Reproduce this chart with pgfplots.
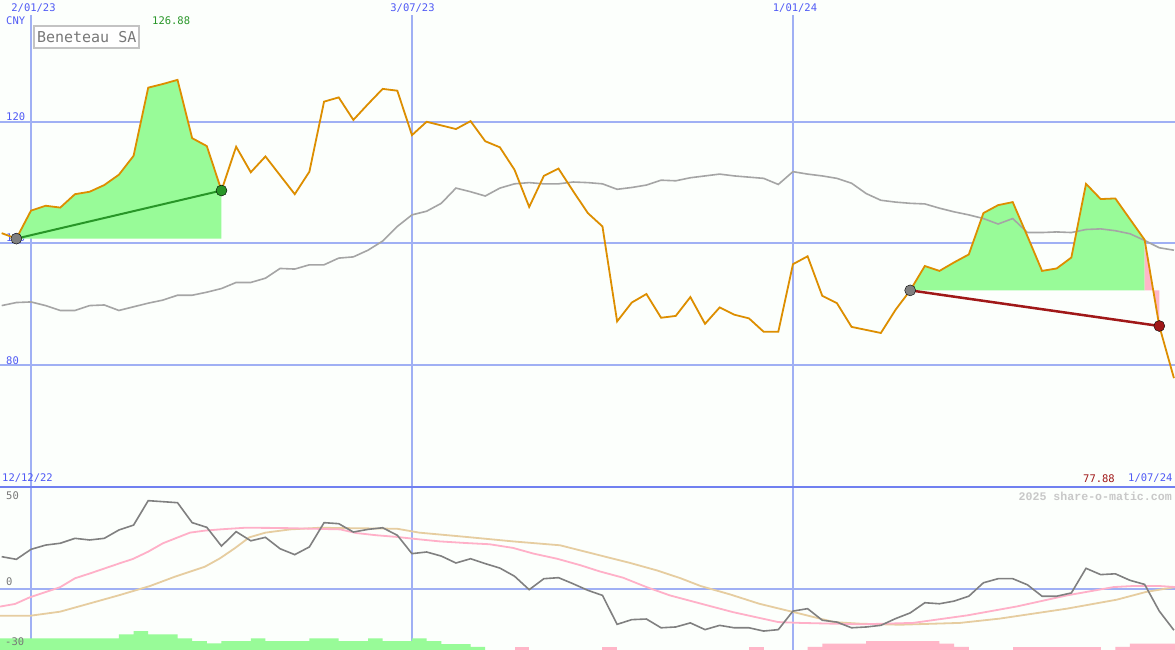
\documentclass[border=0pt]{standalone}
\usepackage{fontspec}
\setmainfont{DejaVu Sans}
\newfontfamily\lblfont{DejaVu Sans Mono}
\newfontfamily\wmfont{Liberation Mono}
\usepackage{pgfplots}
\usepackage{pgfplotstable}
\pgfplotsset{compat=1.18}

\definecolor{bg}{RGB}{252,255,252}
\definecolor{gridblue}{RGB}{160,176,244}
\definecolor{sepblue}{RGB}{112,128,240}
\definecolor{lblblue}{RGB}{80,90,245}
\definecolor{pricecol}{RGB}{221,142,0}
\definecolor{avgcol}{RGB}{165,165,165}
\definecolor{oscgray}{RGB}{128,128,128}
\definecolor{pinkline}{RGB}{255,176,200}
\definecolor{tanline}{RGB}{230,205,160}
\definecolor{palegrn}{RGB}{152,251,152}
\definecolor{pinkfill}{RGB}{255,182,200}
\definecolor{upgreen}{RGB}{40,150,40}
\definecolor{dnred}{RGB}{160,24,24}
\definecolor{wmgray}{RGB}{200,200,200}
\definecolor{boxgray}{RGB}{195,195,195}
\definecolor{txtgray}{RGB}{120,120,120}

% weekly closes, x = weeks after 2/01/23
\pgfplotstableread{
k v
-2 101.7
-1 100.8
0 105.4
1 106.2
2 105.9
3 108.1
4 108.5
5 109.6
6 111.3
7 114.4
8 125.6
9 126.2
10 126.88
11 117.3
12 116.0
13 108.7
14 115.9
15 111.7
16 114.3
17 111.2
18 108.1
19 111.8
20 123.3
21 124.0
22 120.3
23 122.9
24 125.4
25 125.1
26 117.8
27 120.0
28 119.4
29 118.8
30 120.1
31 116.8
32 115.8
33 112.1
34 106.0
35 111.1
36 112.3
37 108.6
38 105.0
39 102.8
40 87.2
41 90.3
42 91.7
43 87.8
44 88.1
45 91.2
46 86.8
47 89.5
48 88.3
49 87.7
50 85.5
51 85.5
52 96.6
53 97.9
54 91.4
55 90.2
56 86.3
57 85.8
58 85.3
59 89.1
60 92.3
61 96.3
62 95.5
63 96.9
64 98.2
65 105.0
66 106.3
67 106.8
68 101.2
69 95.5
70 95.9
71 97.7
72 109.8
73 107.3
74 107.4
75 104.0
76 100.6
77 86.45
78 77.88
}\price

\pgfplotstableread{
k v
-2 89.8
-1 90.3
0 90.4
1 89.8
2 89.0
3 89.0
4 89.8
5 89.9
6 89.0
7 89.6
8 90.2
9 90.7
10 91.5
11 91.5
12 92.0
13 92.6
14 93.6
15 93.6
16 94.3
17 95.9
18 95.8
19 96.5
20 96.5
21 97.6
22 97.8
23 98.9
24 100.4
25 102.8
26 104.7
27 105.3
28 106.6
29 109.1
30 108.5
31 107.8
32 109.1
33 109.8
34 110.0
35 109.8
36 109.8
37 110.1
38 110.0
39 109.8
40 108.9
41 109.2
42 109.6
43 110.4
44 110.3
45 110.8
46 111.1
47 111.4
48 111.1
49 110.9
50 110.7
51 109.7
52 111.8
53 111.4
54 111.1
55 110.7
56 109.9
57 108.2
58 107.1
59 106.8
60 106.6
61 106.5
62 105.8
63 105.2
64 104.7
65 104.1
66 103.2
67 104.1
68 101.8
69 101.8
70 101.9
71 101.8
72 102.3
73 102.4
74 102.1
75 101.6
76 100.5
77 99.3
78 98.9
}\avg

\pgfplotstableread{
k v
-2 15.8
-1 14.5
0 19.4
1 21.5
2 22.4
3 24.8
4 24.0
5 24.8
6 28.9
7 31.3
8 43.3
9 42.8
10 42.3
11 32.5
12 30.2
13 21.0
14 28.1
15 23.6
16 25.3
17 19.7
18 16.8
19 20.6
20 32.5
21 32.0
22 27.9
23 29.2
24 30.0
25 26.3
26 17.3
27 18.1
28 16.1
29 12.7
30 14.8
31 12.4
32 10.2
33 6.2
34 -0.4
35 5.0
36 5.5
37 2.5
38 -0.7
39 -3.2
40 -17.4
41 -15.1
42 -14.8
43 -19.1
44 -18.7
45 -16.7
46 -20.0
47 -17.9
48 -19.1
49 -19.1
50 -20.7
51 -20.0
52 -10.9
53 -9.7
54 -15.4
55 -16.3
56 -19.1
57 -18.7
58 -17.9
59 -14.6
60 -11.8
61 -6.8
62 -7.3
63 -6.0
64 -3.6
65 3.0
66 5.0
67 5.0
68 2.0
69 -3.6
70 -3.6
71 -2.0
72 10.1
73 7.0
74 7.4
75 4.2
76 2.2
77 -10.9
78 -20.3
}\osc

\pgfplotstableread{
k v
-2.12 -8.7
-1.09 -7.4
-0.07 -4.1
1.98 0.8
3.0 5.2
4.03 7.6
5.05 10.1
6.07 12.6
6.96 14.7
7.98 18.2
9.01 22.4
10.03 25.3
10.85 27.6
11.87 28.6
12.9 29.2
14.6 30.0
17.0 29.9
21.1 29.2
22.2 27.4
23.6 26.3
24.96 25.5
26.5 24.3
27.9 23.3
29.7 22.5
31.3 21.9
32.9 20.1
34.3 17.3
35.9 14.8
37.5 11.6
38.8 8.6
40.4 5.5
42.0 0.9
43.6 -3.2
45.9 -7.6
47.9 -11.4
51.0 -16.3
52.5 -16.7
56.6 -17.4
60.2 -16.7
63.9 -13.0
67.3 -8.6
70.7 -3.2
73.9 0.9
75.2 1.4
77.0 1.4
78.1 0.9
}\pinkavg

\pgfplotstableread{
k v
-2.12 -13.2
-0.07 -13.2
1.98 -11.2
4.03 -7.1
6.07 -3.0
8.12 1.4
9.83 6.0
11.87 10.9
12.9 15.0
13.9 19.9
14.9 25.3
16.0 27.6
17.7 29.2
19.7 30.0
25.0 29.5
26.5 27.6
29.7 25.5
32.9 23.3
36.1 21.4
38.8 16.5
40.9 12.7
42.7 9.1
44.3 5.3
45.7 1.4
47.7 -2.7
49.7 -7.3
52.5 -12.2
54.8 -16.3
56.6 -17.1
59.3 -17.6
63.4 -16.7
66.1 -14.6
70.7 -9.7
74.1 -5.3
76.1 -1.5
78.1 0.9
}\tanavg

\pgfplotsset{panel/.style={
  scale only axis, width=1175pt,
  xmin=-2.115, xmax=78.07,
  axis line style={draw=none},
  xtick=\empty, ytick=\empty,
  axis background/.style={fill=bg},
}}

\begin{document}
\begin{tikzpicture}[lbl/.style={font=\lblfont\fontsize{10.5}{12}\selectfont, inner sep=0pt}]

\begin{axis}[panel, at={(0pt,163pt)}, height=487pt, ymin=60, ymax=140]
  \draw[gridblue, line width=2pt] (axis cs:-2.115,120) -- (axis cs:78.07,120);
  \draw[gridblue, line width=2pt] (axis cs:-2.115,100) -- (axis cs:78.07,100);
  \draw[gridblue, line width=2pt] (axis cs:-2.115,80) -- (axis cs:78.07,80);
  \draw[gridblue, line width=2pt] (axis cs:0,60) -- (axis cs:0,137.5);
  \draw[gridblue, line width=2pt] (axis cs:26,60) -- (axis cs:26,137.5);
  \draw[gridblue, line width=1.2pt] (axis cs:52,60) -- (axis cs:52,137.5);
  \node[lbl, text=lblblue, anchor=south west] at (axis cs:-1.705,100.25) {100};

  \addplot[fill=palegrn, draw=none] table[restrict x to domain=-1:13] {\price}
    -- (axis cs:13,100.8) -- (axis cs:-1,100.8) -- cycle;
  \addplot[fill=palegrn, draw=none] table[restrict x to domain=60:76] {\price}
    -- (axis cs:76,92.3) -- (axis cs:60,92.3) -- cycle;
  \addplot[fill=pinkfill, draw=none] table[restrict x to domain=76:77] {\price}
    -- (axis cs:77,92.3) -- (axis cs:76,92.3) -- cycle;

  \addplot[avgcol, line width=1.6pt] table {\avg};
  \addplot[pricecol, line width=1.8pt] table {\price};

  \addplot[upgreen, line width=2pt] coordinates {(-1,100.8) (13,108.7)};
  \addplot[dnred, line width=2.5pt] coordinates {(60,92.3) (77,86.45)};
  \addplot[only marks, mark=*, mark size=5.5pt, mark options={fill=oscgray, draw=none}]
    coordinates {(-1,100.8) (60,92.3)};
  \addplot[only marks, mark=*, mark size=5.5pt, mark options={fill=upgreen, draw=none}]
    coordinates {(13,108.7)};
  \addplot[only marks, mark=*, mark size=5.5pt, mark options={fill=dnred, draw=none}]
    coordinates {(77,86.45)};
\end{axis}

\begin{axis}[panel, at={(0pt,0pt)}, height=163pt, ymin=-30, ymax=50]
  \draw[gridblue, line width=2pt] (axis cs:-2.115,0) -- (axis cs:78.07,0);
  \draw[gridblue, line width=2pt] (axis cs:0,-30) -- (axis cs:0,50);
  \draw[gridblue, line width=2pt] (axis cs:26,-30) -- (axis cs:26,50);
  \draw[gridblue, line width=1.2pt] (axis cs:52,-30) -- (axis cs:52,50);

  % weekly histogram
  \addplot[fill=palegrn, draw=none] coordinates {
    (-2.2,-30) (-2.2,-24.3) (6,-24.3) (6,-22.3) (7,-22.3) (7,-20.7) (8,-20.7)
    (8,-22.3) (10,-22.3) (10,-24.3) (11,-24.3) (11,-25.6) (12,-25.6) (12,-26.7)
    (13,-26.7) (13,-25.6) (15,-25.6) (15,-24.3) (16,-24.3) (16,-25.6) (19,-25.6)
    (19,-24.3) (21,-24.3) (21,-25.6) (23,-25.6) (23,-24.3) (24,-24.3) (24,-25.6)
    (26,-25.6) (26,-24.3) (27,-24.3) (27,-25.6) (28,-25.6) (28,-27.1) (30,-27.1)
    (30,-28.5) (31,-28.5) (31,-30)};
  \addplot[fill=pinkfill, draw=none] coordinates {(33,-30) (33,-28.5) (34,-28.5) (34,-30)};
  \addplot[fill=pinkfill, draw=none] coordinates {(39,-30) (39,-28.5) (40,-28.5) (40,-30)};
  \addplot[fill=pinkfill, draw=none] coordinates {(49,-30) (49,-28.5) (50,-28.5) (50,-30)};
  \addplot[fill=pinkfill, draw=none] coordinates {
    (53,-30) (53,-28.5) (54,-28.5) (54,-26.9) (57,-26.9) (57,-25.6) (62,-25.6)
    (62,-26.9) (63,-26.9) (63,-28.5) (64,-28.5) (64,-30)};
  \addplot[fill=pinkfill, draw=none] coordinates {(67,-30) (67,-28.5) (73,-28.5) (73,-30)};
  \addplot[fill=pinkfill, draw=none] coordinates {
    (74,-30) (74,-28.5) (75,-28.5) (75,-26.9) (78.2,-26.9) (78.2,-30)};

  \addplot[tanline, line width=1.8pt] table {\tanavg};
  \addplot[pinkline, line width=1.8pt] table {\pinkavg};
  \addplot[oscgray, line width=1.6pt] table {\osc};
\end{axis}

\draw[sepblue, line width=2.5pt] (0pt,163pt) -- (1175pt,163pt);

% labels
\node[lbl, text=lblblue, anchor=north] at (33.5pt,646pt) {2/01/23};
\node[lbl, text=lblblue, anchor=north] at (412.5pt,646pt) {3/07/23};
\node[lbl, text=lblblue, anchor=north] at (795pt,646pt) {1/01/24};
\node[lbl, text=lblblue, anchor=north west] at (6pt,633pt) {CNY};
\node[lbl, text=upgreen, anchor=north west] at (152pt,633pt) {126.88};
\node[anchor=north west, draw=boxgray, line width=2pt, fill=white, inner xsep=3pt,
      inner ysep=0pt, minimum height=22pt, text=txtgray,
      font=\lblfont\fontsize{15}{16}\selectfont] at (33pt,625pt) {Beneteau SA};
\node[lbl, text=lblblue, anchor=south west] at (6pt,529.5pt) {120};
\node[lbl, text=lblblue, anchor=south west] at (6pt,285.5pt) {80};
\node[lbl, text=lblblue, anchor=south west] at (2pt,167pt) {12/12/22};
\node[lbl, text=dnred, anchor=south west] at (1083pt,167pt) {77.88};
\node[lbl, text=lblblue, anchor=south west] at (1128pt,167pt) {1/07/24};
\node[anchor=north east, inner sep=0pt, text=wmgray,
      font=\wmfont\bfseries\fontsize{11.6}{13}\selectfont] at (1172pt,158.5pt)
      {2025 share-o-matic.com};
\node[lbl, text=txtgray, anchor=north west] at (6pt,158pt) {50};
\node[lbl, text=txtgray, anchor=south west] at (6pt,64pt) {0};
\node[lbl, text=txtgray, anchor=south west] at (5pt,4.3pt) {-30};

\pgfresetboundingbox
\path[use as bounding box] (0pt,0pt) rectangle (1175pt,650pt);
\end{tikzpicture}
\end{document}
